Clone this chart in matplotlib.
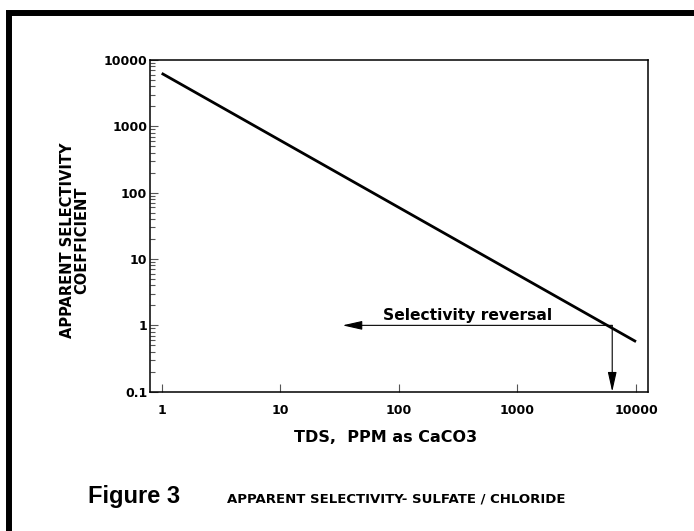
import matplotlib
matplotlib.use("Agg")
import matplotlib.pyplot as plt
from matplotlib.patches import Rectangle

# data
tds = [1, 10000]
coef = [6300, 0.568]
reversal_x = 6300
reversal_y = 1
arrow_left_x = 33.5
arrow_bottom_y = 0.1
xticks = [1, 10, 100, 1000, 10000]
xlabels = ["1", "10", "100", "1000", "10000"]
yticks = [0.1, 1, 10, 100, 1000, 10000]
ylabels = ["0.1", "1", "10", "100", "1000", "10000"]

plt.rcParams['font.family'] = 'DejaVu Sans'
plt.rcParams['font.weight'] = 'bold'

fig = plt.figure(figsize=(6.94, 5.31), dpi=100)
ax = fig.add_axes([150/694, 1-391.7/531, 498/694, 331.7/531])

ax.plot(tds, coef, color='black', lw=2.0, solid_capstyle='butt')

# selectivity reversal arrows
arr = dict(arrowstyle='-|>,head_length=1.2,head_width=0.27', color='black',
           lw=0.8, shrinkA=0, shrinkB=0, mutation_scale=10)
ax.annotate("", xy=(arrow_left_x, reversal_y), xytext=(reversal_x, reversal_y), arrowprops=arr)
ax.annotate("", xy=(reversal_x, arrow_bottom_y), xytext=(reversal_x, reversal_y), arrowprops=arr)
ax.text(73.5, 1.205, "Selectivity reversal", fontsize=11.2, fontweight='bold',
        ha='left', va='baseline')

ax.set_xscale('log')
ax.set_yscale('log')
ax.set_xlim(0.797, 12620)
ax.set_ylim(0.1, 10000)

ax.set_xticks(xticks)
ax.set_xticklabels(xlabels)
ax.set_yticks(yticks)
ax.set_yticklabels(ylabels)
ax.xaxis.set_minor_locator(matplotlib.ticker.NullLocator())
ax.yaxis.set_minor_locator(matplotlib.ticker.LogLocator(base=10, subs=range(2, 10)))
ax.yaxis.set_minor_formatter(matplotlib.ticker.NullFormatter())

ax.tick_params(axis='x', which='major', direction='in', length=6, width=0.8,
               color='#555555', pad=8.5, labelsize=9)
ax.tick_params(axis='y', which='major', direction='in', length=6, width=0.8,
               color='#555555', pad=2, labelsize=9)
ax.tick_params(axis='y', which='minor', direction='in', length=3.5, width=0.8,
               color='#555555')
for lab in ax.get_xticklabels() + ax.get_yticklabels():
    lab.set_fontweight('bold')
for s in ax.spines.values():
    s.set_linewidth(1.1)

# axis titles
fig.text(75/694, 1-240/531, "APPARENT SELECTIVITY\nCOEFFICIENT", rotation=90,
         ha='center', va='center', multialignment='center', fontsize=10.5,
         fontweight='bold', linespacing=0.95)
fig.text(386/694, 1-438/531, "TDS,  PPM as CaCO3", ha='center', va='center',
         fontsize=11.5, fontweight='bold')

# caption
fig.text(88/694, 1-503/531, "Figure 3", ha='left', va='baseline',
         fontsize=17, fontweight='bold', family='Liberation Sans')
fig.text(227/694, 1-503/531, "APPARENT SELECTIVITY- SULFATE / CHLORIDE",
         ha='left', va='baseline', fontsize=9.5, fontweight='bold')

# thick frame, cut off at right and bottom
fig.add_artist(Rectangle((9/694, -0.1), 1.2, 1-13/531+0.1, transform=fig.transFigure,
                         fill=False, lw=4.3, edgecolor='black', clip_on=False))

fig.savefig("out.png", dpi=100)
